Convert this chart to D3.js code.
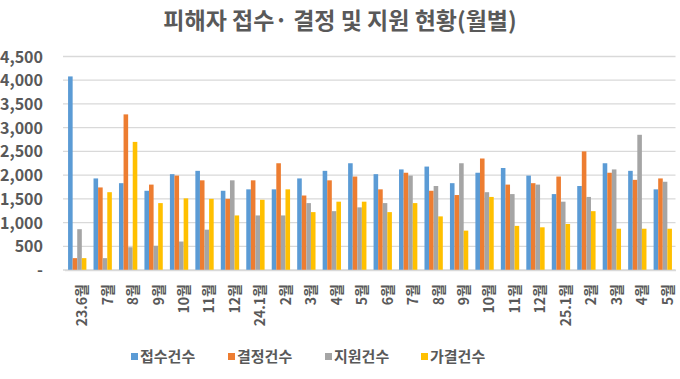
<!DOCTYPE html>
<html><head><meta charset="utf-8">
<script src="https://cdn.jsdelivr.net/npm/d3@7"></script>
<style>html,body{margin:0;padding:0;background:#fff;}svg{display:block;}</style>
</head><body>
<svg id="chart" width="680" height="379"></svg>
<script>
const title = "피해자 접수· 결정 및 지원 현황(월별)";
const categories = ["23.6월","7월","8월","9월","10월","11월","12월","24.1월","2월","3월","4월","5월","6월","7월","8월","9월","10월","11월","12월","25.1월","2월","3월","4월","5월"];
const seriesNames = ["접수건수","결정건수","지원건수","가결건수"];
const received = [4080,1930,1830,1670,2020,2090,1670,1700,1700,1930,2090,2250,2020,2120,2180,1830,2050,2150,1990,1600,1770,2250,2090,1700];
const decided  = [250,1740,3280,1800,1990,1890,1500,1890,2250,1570,1890,1970,1700,2050,1670,1580,2350,1800,1830,1970,2500,2050,1900,1930];
const supported= [860,250,480,510,600,850,1890,1150,1150,1410,1240,1320,1410,1990,1770,2250,1640,1600,1800,1440,1540,2120,2850,1860];
const approved = [250,1640,2700,1410,1510,1500,1150,1480,1700,1220,1440,1440,1220,1410,1130,830,1540,930,900,970,1240,870,870,870];
const yTicks = [0,500,1000,1500,2000,2500,3000,3500,4000,4500];
const colors = ["#5B9BD5","#ED7D31","#A5A5A5","#FFC000"];

const series = [received, decided, supported, approved];
const svg = d3.select("#chart");
const font = "'Noto Sans CJK KR','Noto Sans',sans-serif";
const txt = "#595959";

const x = d3.scaleBand().domain(d3.range(categories.length)).range([64.5, 675.5]).paddingInner(0.28).paddingOuter(0.14);
const xs = d3.scaleBand().domain(d3.range(series.length)).range([0, x.bandwidth()]);
const y = d3.scaleLinear().domain([0, 4500]).range([270, 56.5]);

// gridlines
svg.append("g").selectAll("line").data(yTicks).join("line")
  .attr("x1", 63).attr("x2", 675.5)
  .attr("y1", d => y(d)).attr("y2", d => y(d))
  .attr("stroke", "#d9d9d9").attr("stroke-width", 1.3);

// y axis labels
const yAxis = d3.axisLeft(y).tickValues(yTicks).tickSize(0).tickPadding(0)
  .tickFormat(d => d === 0 ? "-" : d3.format(",")(d));
const ya = svg.append("g").attr("transform", "translate(43,0)").call(yAxis);
ya.select(".domain").remove();
ya.selectAll("text").attr("font-family", font).attr("font-size", 16).attr("font-weight", 700).attr("fill", txt).attr("dy", "0.35em");

// bars
svg.append("g").selectAll("g").data(series).join("g")
  .attr("fill", (d, i) => colors[i])
  .each(function(vals, si) {
    d3.select(this).selectAll("rect").data(vals).join("rect")
      .attr("x", (v, ci) => x(ci) + xs(si))
      .attr("width", xs.bandwidth())
      .attr("y", v => y(v))
      .attr("height", v => y(0) - y(v));
  });

// x axis
const xAxis = d3.axisBottom(x).tickSize(0).tickPadding(0).tickFormat(i => categories[i]);
const xa = svg.append("g").attr("transform", "translate(0,270)").call(xAxis);
xa.select(".domain").attr("stroke", "#d9d9d9").attr("stroke-width", 1.3);
xa.selectAll("text")
  .attr("font-family", font).attr("font-size", 14).attr("font-weight", 700).attr("fill", txt)
  .attr("transform", "translate(5,14) rotate(-90)")
  .attr("text-anchor", "end").attr("x", 0).attr("y", 0).attr("dy", "0.35em");

// title
svg.append("text").attr("x", 340).attr("y", 29).attr("text-anchor", "middle")
  .attr("font-family", font).attr("font-size", 23).attr("font-weight", 700).attr("fill", txt)
  .text(title);

// legend
const legendX = [131, 228, 325, 421];
const lg = svg.append("g").selectAll("g").data(seriesNames).join("g")
  .attr("transform", (d, i) => `translate(${legendX[i]},357)`);
lg.append("rect").attr("x", 0).attr("y", -4).attr("width", 7).attr("height", 7).attr("fill", (d, i) => colors[i]);
lg.append("text").attr("x", 9).attr("y", 0).attr("dy", "0.35em")
  .attr("font-family", font).attr("font-size", 15).attr("font-weight", 700).attr("fill", txt)
  .text(d => d);
</script>
</body></html>
